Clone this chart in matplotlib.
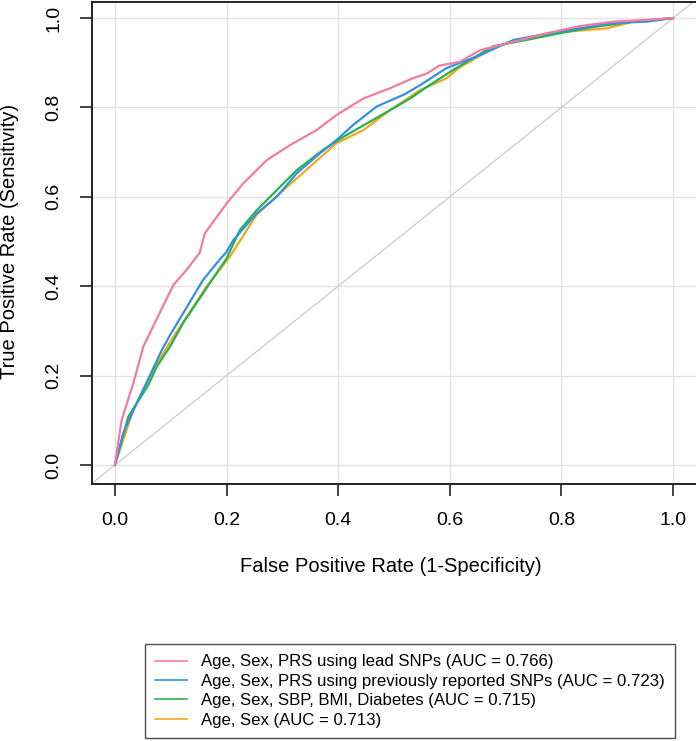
#!/usr/bin/env python3

from matplotlib import pyplot as plt


# ROC curves (false positive rate, true positive rate)
lead_fpr = [0.0, 0.012, 0.033, 0.051, 0.084, 0.105, 0.128, 0.152, 0.161, 0.2, 0.23,
            0.272, 0.314, 0.361, 0.397, 0.445, 0.493, 0.529, 0.559, 0.582, 0.618,
            0.654, 0.714, 0.774, 0.833, 0.893, 0.953, 1.0]
lead_tpr = [0.0, 0.10, 0.183, 0.265, 0.35, 0.403, 0.436, 0.475, 0.518, 0.585, 0.63,
            0.682, 0.716, 0.749, 0.783, 0.82, 0.843, 0.863, 0.876, 0.894, 0.902,
            0.928, 0.947, 0.966, 0.982, 0.992, 0.996, 1.0]

prev_fpr = [0.0, 0.015, 0.024, 0.039, 0.063, 0.084, 0.099, 0.122, 0.158, 0.182, 0.2,
            0.212, 0.254, 0.29, 0.326, 0.367, 0.397, 0.427, 0.469, 0.52, 0.547,
            0.594, 0.654, 0.714, 0.797, 0.893, 0.953, 1.0]
prev_tpr = [0.0, 0.071, 0.097, 0.138, 0.201, 0.257, 0.291, 0.339, 0.414, 0.451, 0.477,
            0.503, 0.563, 0.6, 0.653, 0.697, 0.727, 0.761, 0.802, 0.83, 0.85,
            0.888, 0.917, 0.951, 0.97, 0.989, 0.992, 1.0]

clin_fpr = [0.0, 0.024, 0.039, 0.06, 0.075, 0.099, 0.122, 0.152, 0.182, 0.2, 0.224,
            0.254, 0.29, 0.326, 0.373, 0.409, 0.451, 0.493, 0.529, 0.559, 0.606,
            0.678, 0.737, 0.797, 0.857, 0.929, 1.0]
clin_tpr = [0.0, 0.108, 0.138, 0.179, 0.22, 0.265, 0.317, 0.373, 0.429, 0.462, 0.526,
            0.57, 0.615, 0.66, 0.705, 0.734, 0.764, 0.794, 0.82, 0.846, 0.884,
            0.937, 0.951, 0.966, 0.98, 0.992, 1.0]

base_fpr = [0.0, 0.033, 0.075, 0.105, 0.164, 0.206, 0.254, 0.302, 0.349, 0.397, 0.445,
            0.493, 0.547, 0.594, 0.618, 0.684, 0.774, 0.881, 0.929, 1.0]
base_tpr = [0.0, 0.123, 0.227, 0.287, 0.399, 0.466, 0.56, 0.615, 0.667, 0.72, 0.749,
            0.794, 0.839, 0.865, 0.89, 0.937, 0.966, 0.977, 0.992, 1.0]

LABELS = [
    "Age, Sex, PRS using lead SNPs (AUC = 0.766)",
    "Age, Sex, PRS using previously reported SNPs (AUC = 0.723)",
    "Age, Sex, SBP, BMI, Diabetes (AUC = 0.715)",
    "Age, Sex (AUC = 0.713)",
]
COLORS = ["#f27ba6", "#3490e2", "#27b34e", "#f2a623"]
TICKS = [0.0, 0.2, 0.4, 0.6, 0.8, 1.0]


def main():
    plt.rcParams["font.family"] = ["Liberation Sans", "DejaVu Sans"]

    fig = plt.figure(figsize=(6.96, 7.41), dpi=100)
    ax = fig.add_axes([92 / 696, 1 - 484 / 741, 605 / 696, 482 / 741])

    ax.set_xlim(-0.041, 1.043)
    ax.set_ylim(-0.0425, 1.036)

    ax.set_xticks(TICKS)
    ax.set_yticks(TICKS)
    ax.set_xticklabels(["%.1f" % t for t in TICKS])
    ax.set_yticklabels(["%.1f" % t for t in TICKS])
    ax.grid(True, color="#e3e3e3", linewidth=1.0)
    ax.set_axisbelow(True)

    ax.axline((0, 0), (1, 1), color="#cccccc", linewidth=0.9, zorder=1)

    curves = [
        (lead_fpr, lead_tpr),
        (prev_fpr, prev_tpr),
        (clin_fpr, clin_tpr),
        (base_fpr, base_tpr),
    ]
    # draw baseline first so that pink ends on top
    for (x, y), color, label in reversed(list(zip(curves, COLORS, LABELS))):
        ax.plot(x, y, color=color, linewidth=1.6, label=label, zorder=3)

    for s in ax.spines.values():
        s.set_linewidth(1.4)
        s.set_color("#222222")

    ax.tick_params(axis="both", direction="out", length=8.5, width=1.2,
                   labelsize=14, color="#222222")
    ax.tick_params(axis="x", pad=12)
    ax.tick_params(axis="y", pad=13, labelrotation=90)
    for lab in ax.get_yticklabels():
        lab.set_va("center")

    fig.text(0.5 * (92 + 696) / 696 - 0.005, 1 - 567 / 741,
             "False Positive Rate (1-Specificity)", fontsize=14.5,
             ha="center", va="center")
    fig.text(10 / 696, 1 - 241 / 741, "True Positive Rate (Sensitivity)",
             fontsize=14.5, rotation=90, ha="center", va="center")

    handles, labels = ax.get_legend_handles_labels()
    leg = fig.legend(handles[::-1], labels[::-1],
                     loc="upper left", bbox_to_anchor=(145 / 696, 1 - 644 / 741),
                     fontsize=12.1, frameon=True, fancybox=False,
                     edgecolor="#222222", handlelength=1.85, handletextpad=0.85,
                     labelspacing=0.26, borderpad=0.62, borderaxespad=0)
    leg.get_frame().set_linewidth(1.0)
    for line in leg.get_lines():
        line.set_linewidth(1.2)

    fig.savefig("out.png", dpi=100)


if __name__ == "__main__":
    main()
